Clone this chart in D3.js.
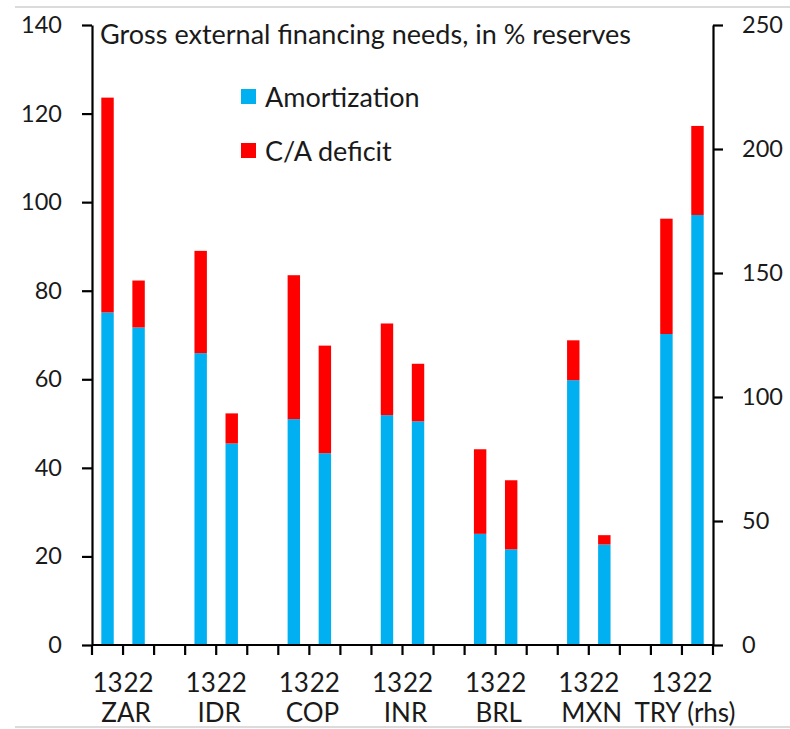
<!DOCTYPE html>
<html>
<head>
<meta charset="utf-8">
<script src="https://cdn.jsdelivr.net/npm/d3@7"></script>
<style>
  body { margin: 0; background: #fff; }
  text { font-family: Lato, "Noto Sans", sans-serif; fill: #1a1a1a; }
</style>
</head>
<body>
<div id="chart"></div>
<script>
// groups and years (two bars per group)
var groups = ["ZAR", "IDR", "COP", "INR", "BRL", "MXN", "TRY (rhs)"];
var years = ["13", "22"];

// values, [2013, 2022] per group
var amortization = [[75.1, 71.7], [65.9, 45.5], [51.0, 43.3], [51.9, 50.5], [25.1, 21.6], [59.8, 22.7], [125.4, 173.4]];
var caDeficit = [[48.5, 10.6], [23.1, 6.8], [32.5, 24.3], [20.7, 13.0], [19.1, 15.6], [9.0, 2.1], [46.5, 35.9]];

var leftTicks = [0, 20, 40, 60, 80, 100, 120, 140];
var rightTicks = [0, 50, 100, 150, 200, 250];
var rhsGroup = "TRY (rhs)";

var width = 790, height = 729;
var plotL = 92, plotR = 713, plotT = 25, plotB = 645;

var svg = d3.select("#chart").append("svg").attr("width", width).attr("height", height);

// thin grey frame lines of the screenshot
svg.append("line").attr("x1", 15).attr("x2", width).attr("y1", 7).attr("y2", 7).attr("stroke", "#cfcfcf").attr("stroke-width", 1.5);
svg.append("line").attr("x1", 15).attr("x2", width).attr("y1", 727).attr("y2", 727).attr("stroke", "#cfcfcf").attr("stroke-width", 1.5);

// build category slots: 13, 22, gap, 13, 22, gap ...
var slots = [];
groups.forEach(function(g, i) {
    years.forEach(function(y, j) {
        slots.push({key: g + "-" + y, group: g, year: y, amort: amortization[i][j], ca: caDeficit[i][j]});
    });
    if (i < groups.length - 1) slots.push({key: "gap-" + i, group: null});
});

var x = d3.scaleBand().domain(slots.map(function(d) { return d.key; })).range([plotL, plotR]).padding(0);
var yL = d3.scaleLinear().domain([0, 140]).range([plotB, plotT]);
var yR = d3.scaleLinear().domain([0, 250]).range([plotB, plotT]);

var bw = x.bandwidth() * 0.4;
var bars = slots.filter(function(d) { return d.group; });

function yOf(d) { return d.group === rhsGroup ? yR : yL; }

// amortization (bottom) and C/A deficit (top) stacks
svg.selectAll("rect.amort").data(bars).enter().append("rect")
    .attr("class", "amort")
    .attr("x", function(d) { return x(d.key) + (x.bandwidth() - bw) / 2; })
    .attr("width", bw)
    .attr("y", function(d) { return yOf(d)(d.amort); })
    .attr("height", function(d) { return plotB - yOf(d)(d.amort); })
    .attr("fill", "#00B0F0");

svg.selectAll("rect.ca").data(bars).enter().append("rect")
    .attr("class", "ca")
    .attr("x", function(d) { return x(d.key) + (x.bandwidth() - bw) / 2; })
    .attr("width", bw)
    .attr("y", function(d) { return yOf(d)(d.amort + d.ca); })
    .attr("height", function(d) { return yOf(d)(d.amort) - yOf(d)(d.amort + d.ca); })
    .attr("fill", "#FF0000");

// axes
var axL = svg.append("g").attr("transform", "translate(" + plotL + ",0)")
    .call(d3.axisLeft(yL).tickValues(leftTicks).tickSize(10).tickSizeOuter(0).tickPadding(20));
var axR = svg.append("g").attr("transform", "translate(" + plotR + ",0)")
    .call(d3.axisRight(yR).tickValues(rightTicks).tickSize(10).tickSizeOuter(0).tickPadding(19));

[axL, axR].forEach(function(ax) {
    ax.select(".domain").attr("stroke", "#000").attr("stroke-width", 2.2);
    ax.selectAll(".tick line").attr("stroke", "#000").attr("stroke-width", 2.2);
    ax.selectAll(".tick text").attr("font-size", 23.5).attr("fill", "#1a1a1a")
        .style("font-family", "Lato, 'Noto Sans', sans-serif");
});

// category axis with ticks between categories
svg.append("line").attr("x1", plotL).attr("x2", plotR).attr("y1", plotB).attr("y2", plotB)
    .attr("stroke", "#000").attr("stroke-width", 2.2);
var tickXs = slots.map(function(d) { return x(d.key); }).concat([x.range()[1]]);
svg.selectAll("line.xtick").data(tickXs).enter().append("line")
    .attr("class", "xtick")
    .attr("x1", function(d) { return d; }).attr("x2", function(d) { return d; })
    .attr("y1", plotB).attr("y2", plotB + 10)
    .attr("stroke", "#000").attr("stroke-width", 2.2);

svg.selectAll("text.year").data(bars).enter().append("text")
    .attr("class", "year")
    .attr("x", function(d) { return x(d.key) + x.bandwidth() / 2; })
    .attr("y", 692)
    .attr("text-anchor", "middle")
    .attr("font-size", 26)
    .text(function(d) { return d.year; });

svg.selectAll("text.group").data(groups).enter().append("text")
    .attr("class", "group")
    .attr("x", function(g) { return (x(g + "-13") + x(g + "-22") + x.bandwidth()) / 2 + 3; })
    .attr("y", 722)
    .attr("text-anchor", "middle")
    .attr("font-size", 26)
    .text(function(g) { return g; });

// title
svg.append("text").attr("x", 100).attr("y", 44).attr("font-size", 27)
    .text("Gross external financing needs, in % reserves");

// legend
var legend = [{name: "Amortization", color: "#00B0F0"}, {name: "C/A deficit", color: "#FF0000"}];
var lg = svg.selectAll("g.legend").data(legend).enter().append("g")
    .attr("class", "legend")
    .attr("transform", function(d, i) { return "translate(241," + (89 + i * 54) + ")"; });
lg.append("rect").attr("width", 15).attr("height", 15).attr("fill", function(d) { return d.color; });
lg.append("text").attr("x", 24).attr("y", 18).attr("font-size", 27).text(function(d) { return d.name; });
</script>
</body>
</html>
